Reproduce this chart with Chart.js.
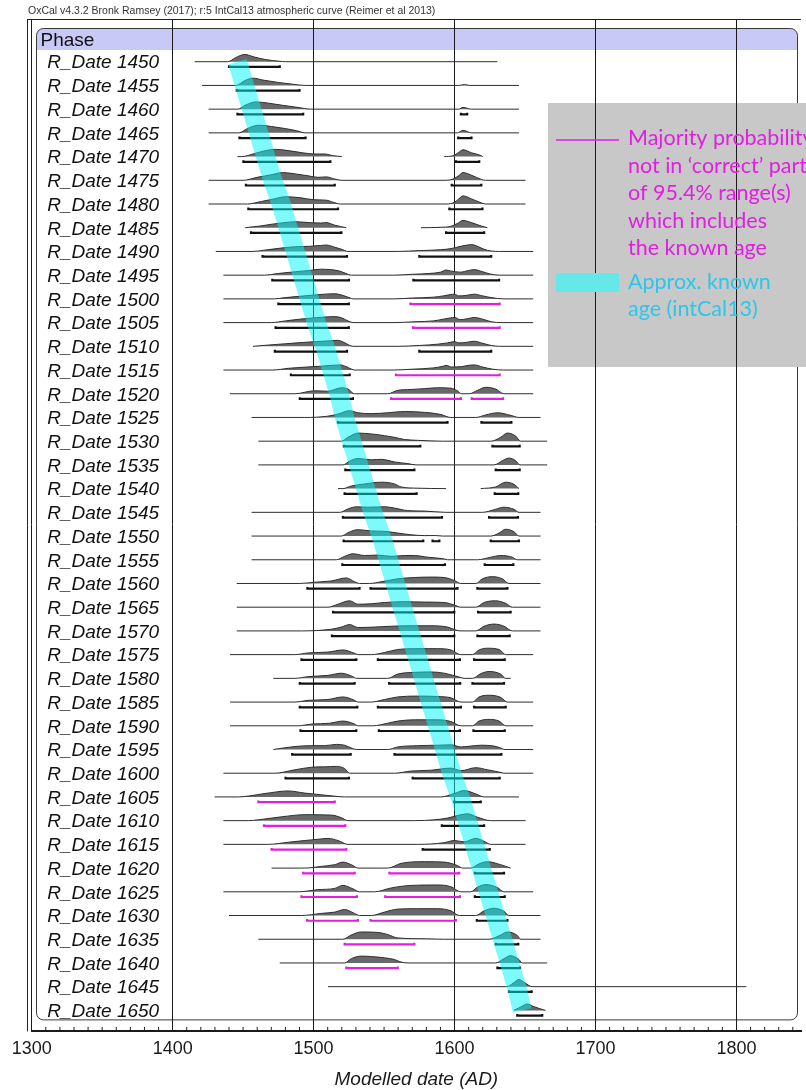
<!DOCTYPE html>
<html>
<head>
<meta charset="utf-8">
<script src="https://cdn.jsdelivr.net/npm/chart.js@4.4.1/dist/chart.umd.min.js"></script>
<style>
  html, body { margin: 0; padding: 0; background: #fff; }
  #wrap { width: 806px; height: 1090px; }
</style>
</head>
<body>
<div id="wrap"><canvas id="c" width="806" height="1090"></canvas></div>
<script>
// ---- data -------------------------------------------------------------
const rowNames = [
  'R_Date 1450','R_Date 1455','R_Date 1460','R_Date 1465','R_Date 1470','R_Date 1475',
  'R_Date 1480','R_Date 1485','R_Date 1490','R_Date 1495','R_Date 1500','R_Date 1505',
  'R_Date 1510','R_Date 1515','R_Date 1520','R_Date 1525','R_Date 1530','R_Date 1535',
  'R_Date 1540','R_Date 1545','R_Date 1550','R_Date 1555','R_Date 1560','R_Date 1565',
  'R_Date 1570','R_Date 1575','R_Date 1580','R_Date 1585','R_Date 1590','R_Date 1595',
  'R_Date 1600','R_Date 1605','R_Date 1610','R_Date 1615','R_Date 1620','R_Date 1625',
  'R_Date 1630','R_Date 1635','R_Date 1640','R_Date 1645','R_Date 1650'
];

// modelled probability distributions: [calendar year, relative density]; null breaks the trace
const density = [
  [[1415.6,0],[1439,0],[1445,0.5],[1451,0.85],[1458,0.55],[1466,0.25],[1476,0.05],[1480,0],[1630.4,0]],
  [[1420.8,0],[1445,0],[1451,0.55],[1457,0.85],[1465,0.6],[1475,0.35],[1485,0.15],[1494,0],[1603,0],[1607,0.1],[1611,0],[1645.7,0]],
  [[1425.5,0],[1446,0],[1452,0.5],[1459,0.85],[1468,0.7],[1478,0.45],[1489,0.2],[1498,0],[1603,0],[1606,0.2],[1612,0],[1645.7,0]],
  [[1425.5,0],[1447,0],[1453,0.5],[1461,0.9],[1470,0.75],[1480,0.5],[1488,0.25],[1494,0],[1602,0],[1606,0.3],[1612,0],[1645.7,0]],
  [[1446,0],[1449,0],[1458,0.35],[1466,0.7],[1473,0.85],[1482,0.7],[1492,0.45],[1501,0.3],[1508,0.3],[1514,0.1],[1520,0],null,[1592.7,0],[1599,0.1],[1603,0.5],[1606,0.8],[1612,0.45],[1619,0.1],[1620,0]],
  [[1425.5,0],[1450,0],[1460,0.35],[1470,0.65],[1478,0.9],[1487,0.75],[1497,0.5],[1503,0.35],[1509,0.4],[1515,0.15],[1520,0],[1594,0],[1599,0.15],[1603,0.55],[1606,0.9],[1612,0.6],[1619,0.1],[1622,0],[1650.4,0]],
  [[1425.5,0],[1453,0],[1463,0.3],[1472,0.6],[1480,0.85],[1490,0.75],[1500,0.5],[1509,0.45],[1514,0.2],[1519,0],[1594,0],[1600,0.2],[1603,0.6],[1606,0.95],[1612,0.6],[1618,0.2],[1622,0],[1650.4,0]],
  [[1451.4,0],[1462,0.2],[1472,0.45],[1482,0.65],[1487,0.7],[1497,0.6],[1505,0.55],[1509,0.6],[1515,0.3],[1523.2,0],null,[1576.2,0],[1590,0.05],[1597,0.15],[1602,0.5],[1606,0.85],[1612,0.6],[1619,0.2],[1623.3,0]],
  [[1430.6,0],[1457,0],[1465,0.15],[1477,0.4],[1487,0.55],[1497,0.6],[1505,0.7],[1509,0.75],[1514,0.55],[1520,0.25],[1524.4,0],[1560,0],[1575,0.1],[1590,0.2],[1598,0.35],[1603,0.55],[1609,0.75],[1612,0.8],[1617,0.55],[1621,0.25],[1626,0.05],[1632,0],[1655.8,0]],
  [[1436,0],[1465,0],[1475,0.2],[1487,0.4],[1497,0.55],[1505,0.7],[1512,0.65],[1518,0.5],[1523,0.2],[1527,0],[1557,0],[1570,0.1],[1582,0.2],[1590,0.35],[1594,0.6],[1597,0.5],[1604,0.35],[1610,0.55],[1614,0.65],[1619,0.45],[1625,0.15],[1632,0],[1655.8,0]],
  [[1436,0],[1472,0],[1480,0.15],[1490,0.3],[1500,0.45],[1508,0.55],[1515,0.6],[1520,0.45],[1526,0.1],[1528,0],[1557,0],[1570,0.1],[1585,0.2],[1592,0.35],[1597,0.5],[1600,0.55],[1603,0.35],[1608,0.4],[1614,0.55],[1620,0.35],[1626,0.15],[1635,0],[1655.8,0]],
  [[1436,0],[1470,0],[1480,0.2],[1490,0.4],[1500,0.55],[1508,0.65],[1515,0.7],[1520,0.55],[1525,0.15],[1528,0],[1557,0],[1572,0.1],[1585,0.2],[1592,0.4],[1597,0.55],[1600,0.6],[1604,0.35],[1609,0.45],[1614,0.6],[1620,0.4],[1626,0.1],[1633,0],[1655.8,0]],
  [[1457,0],[1468,0.15],[1480,0.3],[1492,0.45],[1502,0.55],[1512,0.65],[1517,0.7],[1521,0.5],[1525,0.15],[1528,0],[1560,0],[1575,0.1],[1588,0.25],[1595,0.4],[1600,0.55],[1603,0.4],[1608,0.45],[1614,0.6],[1620,0.35],[1626,0.1],[1632,0],[1655.8,0]],
  [[1436,0],[1471,0],[1482,0.2],[1495,0.35],[1505,0.45],[1513,0.55],[1519,0.6],[1523,0.4],[1527,0.1],[1529,0],[1557,0],[1570,0.1],[1585,0.25],[1592,0.45],[1594,0.55],[1598,0.35],[1605,0.4],[1610,0.55],[1614,0.6],[1620,0.35],[1627,0.1],[1635,0],[1655.8,0]],
  [[1440.7,0],[1486.7,0],[1500.8,0.35],[1510,0.3],[1519.7,0.7],[1524.4,0.55],[1529,0],[1552.6,0],[1559.7,0.4],[1569,0.5],[1578.6,0.6],[1588,0.7],[1597.4,0.65],[1602,0.35],[1605,0],[1610.4,0],[1616.3,0.4],[1622.1,0.75],[1629.2,0.55],[1635,0],[1655.8,0]],
  [[1456,0],[1493.8,0],[1510,0.15],[1517.3,0.4],[1525.6,0.8],[1531.4,0.55],[1540.9,0.45],[1552.6,0.55],[1564.4,0.7],[1578.6,0.6],[1590.3,0.35],[1597.4,0],[1615.1,0],[1622.1,0.3],[1630.4,0.55],[1639.8,0.25],[1645.7,0],[1661,0]],
  [[1460.8,0],[1519.7,0],[1524.4,0.45],[1531.4,0.95],[1540.9,0.85],[1550.3,0.65],[1557.4,0.45],[1564.4,0.2],[1573.8,0.1],[1591.5,0],[1625.7,0],[1632.7,0.45],[1637.5,0.95],[1643.3,0.6],[1646.9,0],[1665.7,0]],
  [[1460.8,0],[1520.8,0],[1525.6,0.45],[1531.4,0.75],[1540.9,0.6],[1548,0.65],[1557.4,0.35],[1566.8,0.15],[1572.7,0],[1628,0],[1634,0.5],[1638.6,0.8],[1643.3,0.5],[1646.4,0],[1665.7,0]],
  [[1517.3,0],[1520.8,0],[1526.7,0.3],[1536.2,0.55],[1548,0.75],[1557.4,0.55],[1562,0.2],[1573.8,0.05],[1594,0],null,[1618.6,0],[1629.2,0.2],[1636.3,0.75],[1642.2,0.5],[1645.7,0]],
  [[1456,0],[1518.5,0],[1524.4,0.4],[1530.3,0.65],[1538.5,0.6],[1550.3,0.65],[1557.4,0.5],[1566.8,0.2],[1578.6,0.15],[1593.9,0],[1619.8,0],[1628,0.3],[1635,0.6],[1642.2,0.35],[1645.7,0],[1661,0]],
  [[1456,0],[1519.7,0],[1524.4,0.4],[1531.4,0.75],[1540.9,0.6],[1550.3,0.55],[1559.7,0.35],[1569.1,0.15],[1578.6,0.05],[1586,0.06],[1591.5,0],[1625.7,0],[1631.6,0.35],[1636.3,0.8],[1642.2,0.5],[1645.7,0],[1661,0]],
  [[1456,0],[1516.1,0],[1522,0.4],[1527.9,0.7],[1536.2,0.5],[1545.6,0.55],[1555,0.4],[1564.4,0.5],[1571.5,0.5],[1580.9,0.3],[1592.7,0.1],[1595,0],[1616.3,0],[1625.7,0.3],[1632.7,0.5],[1641,0.3],[1644.5,0],[1661,0]],
  [[1445.5,0],[1490.2,0],[1500.8,0.15],[1512.6,0.3],[1523.2,0.65],[1529.1,0.2],[1532.6,0],[1539.7,0],[1547.9,0.2],[1559.7,0.55],[1571.5,0.7],[1583.3,0.75],[1592.7,0.7],[1599.8,0.35],[1604.5,0],[1615.1,0],[1619.8,0.55],[1626.9,0.8],[1633.9,0.55],[1638.6,0],[1661,0]],
  [[1445.5,0],[1510.2,0],[1517.3,0.35],[1525.6,0.75],[1531.4,0.35],[1540.9,0.4],[1550.3,0.55],[1564.4,0.65],[1578.6,0.6],[1592.7,0.55],[1599.8,0.25],[1604.5,0],[1615.1,0],[1621,0.55],[1629.2,0.75],[1636.3,0.45],[1641,0],[1661,0]],
  [[1445.5,0],[1491.4,0],[1512.6,0.2],[1519.7,0.45],[1525.6,0.75],[1531.4,0.4],[1543.2,0.45],[1555,0.55],[1569.1,0.6],[1583.3,0.6],[1595,0.45],[1600.9,0.1],[1604.5,0],[1615.1,0],[1621,0.55],[1628,0.8],[1635.1,0.55],[1641,0],[1661,0]],
  [[1440.7,0],[1486.7,0],[1496.1,0.2],[1510.2,0.3],[1520.8,0.55],[1529.1,0.15],[1531.4,0],[1540.9,0],[1550.3,0.25],[1559.7,0.6],[1571.5,0.7],[1588,0.7],[1597.4,0.55],[1604.5,0],[1612.7,0],[1617.4,0.55],[1623.3,0.75],[1631.6,0.6],[1636.3,0],[1655.8,0]],
  [[1471.4,0],[1486.7,0],[1496.1,0.2],[1510.2,0.35],[1519.7,0.6],[1527.9,0.2],[1530.3,0],[1552.6,0],[1559.7,0.5],[1571.5,0.7],[1583.3,0.75],[1592.7,0.6],[1604.5,0.1],[1606.8,0],[1612.7,0],[1618.6,0.55],[1624.5,0.8],[1632.7,0.5],[1636.3,0],[1639.8,0]],
  [[1440.7,0],[1486.7,0],[1496.1,0.2],[1510.2,0.3],[1520.8,0.6],[1529.1,0.2],[1531.4,0],[1540.9,0],[1550.3,0.3],[1559.7,0.6],[1573.8,0.7],[1588,0.65],[1597.4,0.5],[1604.5,0],[1612.7,0],[1617.4,0.6],[1624.5,0.8],[1632.7,0.55],[1637.5,0],[1655.8,0]],
  [[1440.7,0],[1489,0],[1498.5,0.2],[1511.4,0.3],[1520.8,0.55],[1529.1,0.2],[1531.4,0],[1542,0],[1552.6,0.3],[1559.7,0.55],[1571.5,0.7],[1588,0.7],[1597.4,0.5],[1604.5,0],[1612.7,0],[1617.4,0.55],[1624.5,0.75],[1631.6,0.55],[1636.3,0],[1655.8,0]],
  [[1471.4,0],[1486.7,0.35],[1498.5,0.45],[1507.9,0.45],[1516.1,0.6],[1522,0.5],[1527.9,0.1],[1530.3,0],[1552.6,0],[1559.7,0.3],[1573.8,0.45],[1588,0.5],[1597.4,0.55],[1604.5,0.3],[1611.5,0.4],[1618.6,0.5],[1628,0.4],[1633.9,0.1],[1635.1,0],[1655.8,0]],
  [[1436,0],[1472.5,0],[1486.7,0.4],[1498.5,0.7],[1507.9,0.75],[1516.1,0.8],[1522,0.55],[1525.6,0],[1557.4,0],[1569.1,0.25],[1583.3,0.35],[1597.4,0.6],[1604.5,0.3],[1615.1,0.65],[1623.3,0.4],[1633.9,0.05],[1635,0],[1655.8,0]],
  [[1429.7,0],[1446.6,0],[1453.7,0.1],[1465.5,0.4],[1482,0.7],[1493.8,0.45],[1505.5,0.25],[1517.3,0.05],[1522,0],[1590.3,0],[1599.8,0.4],[1606.8,0.75],[1615.1,0.35],[1621,0],[1645.7,0]],
  [[1436,0],[1453.7,0],[1460.8,0.1],[1477.3,0.45],[1493.8,0.7],[1512.6,0.65],[1519.7,0.35],[1524.4,0],[1571.5,0],[1585.6,0.1],[1595,0.3],[1602,0.6],[1609.2,0.8],[1616.3,0.4],[1625.7,0],[1650.4,0]],
  [[1436,0],[1467.8,0],[1482,0.25],[1493.8,0.45],[1503.2,0.6],[1510.2,0.7],[1517.3,0.45],[1524.4,0],[1573.8,0],[1592.7,0.2],[1599.8,0.45],[1606.8,0.3],[1615.1,0.7],[1621,0.35],[1625.7,0],[1650.4,0]],
  [[1470.2,0],[1493.8,0],[1505.5,0.2],[1515,0.4],[1520.8,0.7],[1527.9,0.3],[1531.4,0],[1552.6,0],[1562,0.55],[1578.6,0.75],[1592.7,0.7],[1602,0.3],[1605.7,0],[1611.5,0],[1617.4,0.5],[1623.3,0.75],[1632.7,0.4],[1639.8,0]],
  [[1436,0],[1489,0],[1503.2,0.25],[1515,0.4],[1520.8,0.75],[1527.9,0.35],[1532.6,0],[1543.2,0],[1555,0.45],[1569.1,0.75],[1588,0.8],[1597.4,0.6],[1604.5,0],[1611.5,0],[1616.3,0.55],[1622.1,0.85],[1630.4,0.5],[1635,0],[1655.8,0]],
  [[1440,0],[1491.4,0],[1505.5,0.25],[1515,0.4],[1522,0.7],[1529,0.25],[1532.6,0],[1540.9,0],[1550.3,0.4],[1559.7,0.75],[1573.8,0.8],[1588,0.8],[1597.4,0.55],[1603.3,0],[1615.1,0],[1621,0.55],[1628,0.85],[1635,0.5],[1638.6,0],[1661,0]],
  [[1460.8,0],[1520.8,0],[1526.7,0.5],[1533.8,0.85],[1545.6,0.8],[1552.6,0.55],[1559.7,0.15],[1580,0.05],[1592.7,0],[1624.5,0],[1631.6,0.4],[1637.5,0.85],[1644.5,0.45],[1647,0],[1661,0]],
  [[1476,0],[1522,0],[1526.7,0.5],[1533.8,0.8],[1540.9,0.75],[1550.3,0.6],[1557.4,0.4],[1562.1,0.1],[1567,0],[1629.2,0],[1635,0.5],[1639.8,0.85],[1645.7,0.4],[1648,0],[1665.7,0]],
  [[1510.2,0],[1637,0],[1642,0.45],[1645.7,0.85],[1650,0.45],[1655,0],[1807,0]],
  [[1642,0],[1647,0.4],[1651.6,0.75],[1656,0.45],[1664.5,0]]
];

// 95.4% highest posterior density ranges, calendar years AD
const ranges = [
  [[1440,1476]],
  [[1445.5,1490]],
  [[1446,1492.6],[1604.5,1609]],
  [[1447.4,1494.3],[1602.6,1612]],
  [[1450.2,1511.9],[1601,1617.5]],
  [[1452,1515],[1598,1619]],
  [[1453.7,1517.3],[1596.3,1619.8]],
  [[1455.6,1519.7],[1594,1621]],
  [[1463.8,1523.7],[1575,1626]],
  [[1470.7,1525.1],[1570.8,1631.6]],
  [[1475,1525],[1568.7,1632]],
  [[1473,1525],[1570.5,1632]],
  [[1472.5,1523.7],[1575,1626]],
  [[1483.9,1525.6],[1558.5,1632]],
  [[1490.2,1527.9],[1555,1604.5],[1612.2,1634.4]],
  [[1517.3,1595],[1619.1,1640.3]],
  [[1521.5,1575.7],[1626.9,1646.2]],
  [[1522.5,1571.5],[1629.2,1646.2]],
  [[1522,1573.1],[1628.5,1645.2]],
  [[1520.8,1591.1],[1624.5,1645]],
  [[1521.3,1577.8],[1584.4,1589.2],[1625.7,1645.7]],
  [[1520.4,1593.2],[1621.4,1641.7]],
  [[1495.6,1532.6],[1540.4,1602.1],[1616.2,1637.5]],
  [[1513.8,1599.8],[1616.7,1639.8]],
  [[1513,1599.8],[1616.2,1639.1]],
  [[1491.4,1530.3],[1545.6,1603.8],[1613.9,1635.6]],
  [[1490.2,1529.1],[1553.6,1604],[1612.7,1635.1]],
  [[1490.2,1531],[1545.6,1604.5],[1613.9,1636.3]],
  [[1490.7,1530.3],[1546.3,1603.8],[1613.4,1635.6]],
  [[1484.8,1526.3],[1557.4,1633.2]],
  [[1480.1,1525.1],[1570.3,1632]],
  [[1460.8,1515],[1599.8,1618.6]],
  [[1464.8,1522.5],[1591,1621]],
  [[1470.2,1523.2],[1577.4,1625]],
  [[1492.6,1529.1],[1553.8,1603.3],[1614.4,1635.1]],
  [[1491.4,1530.7],[1550.8,1603.8],[1614.4,1635.6]],
  [[1495.4,1531.4],[1540.4,1600.9],[1615.8,1637.5]],
  [[1522,1571.5],[1629.2,1645.2]],
  [[1523.2,1559.7],[1630.4,1646.4]],
  [[1638.6,1654.7]],
  [[1644.5,1662.2]]
];

// indices of ranges where most of the probability misses the part containing the known age
const missedRanges = [
  [],[],[],[],[],[],[],[],[],[],[1],[1],[],[1],[1,2],[],[],[],[],[],[],
  [],[],[],[],[],[],[],[],[],[],[0],[0],[0],[0,1],[0,1],[0,1],[0],[0],[],[]
];

// approximate known calendar age of each sample (IntCal13)
const knownAge = [
  1446,1451,1456,1461,1466,1471,1477,1482,1487,1492,1497,1502,1508,1513,1518,1522,1527,
  1532,1537,1542,1548,1553,1558,1563,1568,1573,1578,1583,1588,1593,1598,1604,1609,1614,
  1619,1624,1629,1634,1639,1644,1648
];

const tickYears = [1300, 1400, 1500, 1600, 1700, 1800];
const minorStep = 10;

// ---- drawing ----------------------------------------------------------
const FONT = '"Liberation Sans", Arial, sans-serif';
const X_MIN = 1300, X_MAX = 1845.8;
const Y_MIN = -1.801, Y_MAX = 40.886;   // row units, reversed axis
const PEAK = 0.36;                      // row units per unit of density
const BAR_DROP = 0.22;                  // range bar offset below the baseline
const HOOK = 0.07;                      // upturned ends of the range bars

const datasets = [];

// known-age band on top of everything
datasets.push({
  type: 'line',
  order: 0,
  data: knownAge.map((yr, r) => ({ x: yr, y: r })),
  borderColor: 'rgba(0,245,245,0.5)',
  borderWidth: 19,
  borderCapStyle: 'butt',
  borderJoinStyle: 'round',
  pointRadius: 0,
  fill: false,
  tension: 0
});

// range bars
ranges.forEach((list, r) => {
  const ok = [], missed = [];
  list.forEach((rg, k) => {
    const tgt = missedRanges[r].includes(k) ? missed : ok;
    const yb = r + BAR_DROP, yh = yb - HOOK;
    tgt.push({ x: rg[0], y: yh }, { x: rg[0], y: yb }, { x: rg[1], y: yb },
             { x: rg[1], y: yh }, { x: rg[1] + 0.01, y: null });
  });
  [[ok, '#111111'], [missed, '#e21ee2']].forEach(([pts, col]) => {
    if (!pts.length) return;
    datasets.push({
      type: 'line', order: 1, data: pts,
      borderColor: col, borderWidth: 2.2, pointRadius: 0,
      spanGaps: false, fill: false, tension: 0,
      borderCapStyle: 'butt', borderJoinStyle: 'miter'
    });
  });
});

// probability distributions, filled down to each row's baseline
density.forEach((pts, r) => {
  let lastX = X_MIN;
  const data = pts.map(p => {
    if (p) { lastX = p[0]; return { x: p[0], y: r - p[1] * PEAK }; }
    return { x: lastX + 0.01, y: null };
  });
  datasets.push({
    type: 'line', order: 2, data,
    borderColor: '#2e2e2e', borderWidth: 1,
    backgroundColor: '#686868',
    fill: { value: r },
    pointRadius: 0, spanGaps: false,
    cubicInterpolationMode: 'monotone'
  });
});

// minor tick marks along the date axis
const minorTicks = [];
for (let yr = tickYears[0] + minorStep; yr < X_MAX; yr += minorStep) {
  if (yr % 100 !== 0) minorTicks.push({ x: yr, y: Y_MAX - 0.095 });
}
datasets.push({
  type: 'line', order: 3, data: minorTicks, showLine: false,
  pointStyle: 'line', pointRotation: 90, pointRadius: 2.3,
  pointBorderColor: '#222', pointBorderWidth: 1
});

function roundRect(ctx, x0, y0, x1, y1, r, topOnly) {
  ctx.beginPath();
  ctx.moveTo(x0 + r, y0);
  ctx.lineTo(x1 - r, y0);
  ctx.arcTo(x1, y0, x1, y0 + r, r);
  if (topOnly) {
    ctx.lineTo(x1, y1); ctx.lineTo(x0, y1);
  } else {
    ctx.lineTo(x1, y1 - r);
    ctx.arcTo(x1, y1, x1 - r, y1, r);
    ctx.lineTo(x0 + r, y1);
    ctx.arcTo(x0, y1, x0, y1 - r, r);
  }
  ctx.lineTo(x0, y0 + r);
  ctx.arcTo(x0, y0, x0 + r, y0, r);
  ctx.closePath();
}

const decor = {
  id: 'decor',
  beforeDraw(chart) {
    const { ctx, chartArea: ca } = chart;
    const bx0 = ca.left + 4.8, bx1 = ca.right - 3.5;
    const by0 = ca.top + 9.5, by1 = ca.bottom - 11.5;
    ctx.save();
    // "Phase" header band
    roundRect(ctx, bx0, by0, bx1, by0 + 21.5, 7, true);
    ctx.fillStyle = '#c9c9f8';
    ctx.fill();
    // rounded phase box
    roundRect(ctx, bx0, by0, bx1, by1, 7, false);
    ctx.strokeStyle = '#3a3a3a';
    ctx.lineWidth = 1;
    ctx.stroke();
    // key panel background
    ctx.fillStyle = '#c8c8c8';
    ctx.fillRect(548, 103, 258, 264);
    // outer frame
    ctx.strokeStyle = '#222';
    ctx.beginPath();
    ctx.moveTo(27.5, ca.top); ctx.lineTo(27.5, ca.bottom);
    ctx.moveTo(27, ca.top + 0.5); ctx.lineTo(ca.right, ca.top + 0.5);
    ctx.stroke();
    // texts
    ctx.fillStyle = '#111';
    ctx.font = '19px ' + FONT;
    ctx.textBaseline = 'alphabetic';
    ctx.fillText('Phase', bx0 + 4, by0 + 17.5);
    ctx.fillStyle = '#333';
    ctx.font = '10.5px ' + FONT;
    ctx.fillText('OxCal v4.3.2 Bronk Ramsey (2017); r:5 IntCal13 atmospheric curve (Reimer et al 2013)', 28, 14);
    ctx.restore();
  },
  afterDraw(chart) {
    const { ctx } = chart;
    ctx.save();
    ctx.strokeStyle = '#e21ee2';
    ctx.lineWidth = 1.5;
    ctx.beginPath();
    ctx.moveTo(556, 140); ctx.lineTo(619, 140);
    ctx.stroke();
    ctx.font = '21.5px Lato, "Open Sans", sans-serif';
    ctx.textBaseline = 'alphabetic';
    ctx.fillStyle = '#e21ee2';
    ['Majority probability', 'not in \u2018correct\u2019 part', 'of 95.4% range(s)',
     'which includes', 'the known age'].forEach((t, i) => ctx.fillText(t, 628, 145 + i * 27.5));
    ctx.fillStyle = '#66e8e8';
    ctx.fillRect(556, 273, 63, 19);
    ctx.fillStyle = '#2cc6ea';
    ctx.fillText('Approx. known', 628, 289);
    ctx.fillText('age (intCal13)', 628, 316);
    ctx.restore();
  }
};

new Chart(document.getElementById('c'), {
  data: { datasets },
  options: {
    responsive: false,
    devicePixelRatio: 1,
    animation: false,
    events: [],
    layout: { padding: { top: 19, left: 0.7, right: 0, bottom: 0 } },
    plugins: { legend: { display: false }, tooltip: { enabled: false } },
    scales: {
      x: {
        type: 'linear', position: 'bottom', min: X_MIN, max: X_MAX,
        afterBuildTicks: axis => { axis.ticks = tickYears.map(v => ({ value: v })); },
        ticks: {
          callback: v => String(v), autoSkip: false, maxRotation: 0,
          font: { family: FONT, size: 18 }, color: '#1a1a1a', padding: 7
        },
        grid: { color: '#1a1a1a', lineWidth: 1, drawTicks: false },
        border: { display: true, color: '#1a1a1a', width: 2 },
        title: {
          display: true, text: 'Modelled date (AD)', color: '#1a1a1a',
          font: { family: FONT, size: 19, style: 'italic', lineHeight: 1 },
          padding: { top: 3, bottom: 1 }
        }
      },
      y: {
        type: 'linear', position: 'left', reverse: true, min: Y_MIN, max: Y_MAX,
        afterBuildTicks: axis => { axis.ticks = rowNames.map((_, i) => ({ value: i })); },
        ticks: {
          mirror: true, padding: 15.5, crossAlign: 'near', autoSkip: false,
          labelOffset: 1.5,
          callback: (v, i) => rowNames[i],
          font: { family: FONT, size: 19, style: 'italic', lineHeight: 0.3 }, color: '#111'
        },
        grid: { display: false, drawTicks: false },
        border: { display: false }
      }
    }
  },
  plugins: [decor]
});
</script>
</body>
</html>
